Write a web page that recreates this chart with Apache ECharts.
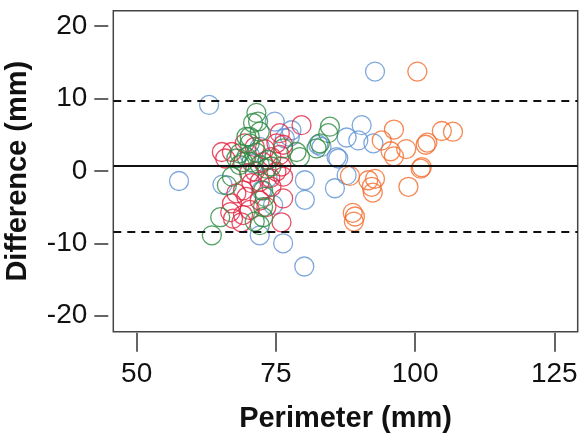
<!DOCTYPE html>
<html>
<head>
<meta charset="utf-8">
<script src="https://cdn.jsdelivr.net/npm/echarts@6/dist/echarts.min.js"></script>
<style>
html,body{margin:0;padding:0;background:#fff;}
#chart{width:584px;height:441px;}
</style>
</head>
<body>
<div id="chart"></div>
<script>
// [perimeter (mm), difference (mm)]
const bluePoints = [[57.6,-1.4],[63.0,9.1],[65.4,-1.9],[70.3,2.2],[72.1,3.3],[72.4,-2.7],[74.5,-4.7],[72.1,-8.9],[74.8,6.8],[77.5,4.7],[76.6,4.5],[77.8,5.6],[80.2,-1.3],[80.2,-4.0],[76.3,-10.0],[80.1,-13.2],[82.6,3.6],[83.2,3.3],[85.6,-2.4],[86.2,1.7],[85.9,1.9],[87.7,-0.6],[87.7,4.6],[90.4,6.3],[89.8,4.2],[92.5,3.8],[92.8,13.7],[73.5,-1.0],[71.0,1.0]];
const greenPoints = [[63.5,-8.9],[65.0,-6.4],[66.2,-2.0],[67.1,-0.8],[67.9,1.7],[68.5,2.4],[68.5,0.8],[69.7,1.9],[69.1,1.2],[70.3,3.8],[70.3,4.7],[69.7,4.7],[70.9,6.6],[71.5,8.0],[71.8,6.8],[72.1,5.4],[70.6,1.2],[72.1,0.8],[73.3,0.3],[74.2,0.6],[76.3,3.1],[78.7,2.6],[79.3,1.9],[82.3,3.1],[82.9,3.8],[84.4,5.2],[84.7,6.1],[72.7,-2.7],[73.0,-3.6],[72.7,-5.0],[72.7,-6.4],[72.1,-7.5],[71.2,-7.0],[71.5,2.5],[73.5,1.5]];
const redPoints = [[65.3,2.6],[65.9,1.7],[67.1,2.6],[67.9,-3.1],[67.1,-4.5],[66.8,-5.7],[67.3,-6.6],[68.8,-7.1],[69.1,-6.1],[70.6,-1.7],[69.1,-2.7],[70.2,-0.3],[79.6,6.3],[75.7,5.2],[76.3,3.6],[75.1,3.8],[75.7,2.2],[76.0,0.6],[76.3,-0.8],[75.1,-0.1],[74.2,-2.2],[76.3,-3.8],[76.0,-7.1],[73.3,-5.0],[72.1,-4.1],[69.7,-3.6],[70.3,-5.4],[71.2,3.3],[72.7,1.2],[74.2,1.9],[71.2,-0.1],[72.1,-1.5],[69.4,3.8],[74.0,-1.0],[73.0,3.0]];
const orangePoints = [[100.4,13.7],[96.2,5.7],[94.0,4.2],[95.6,2.7],[96.2,2.0],[98.4,3.0],[101.9,3.6],[102.2,3.9],[104.8,5.5],[106.8,5.4],[101.0,0.3],[101.2,0.5],[98.8,-2.2],[88.3,-0.7],[91.6,-1.3],[92.8,-1.1],[92.2,-2.2],[92.4,-3.0],[88.8,-5.8],[89.2,-6.3],[89.0,-7.0]];
const meanDiff = 0.69;
const upperLoA = 9.64;
const lowerLoA = -8.44;
const xTicks = [50, 75, 100, 125];
const yTicks = [-20, -10, 0, 10, 20];
const xTitle = 'Perimeter (mm)';
const yTitle = 'Difference (mm)';

const FONT = '"Liberation Sans", Arial, sans-serif';
function sc(name, data, color) {
  return {
    name, type: 'scatter', data, symbol: 'circle', symbolSize: 19,
    itemStyle: { color: 'rgba(0,0,0,0)', borderColor: color, borderWidth: 1.3 },
    emphasis: { disabled: true }, z: 3
  };
}
const chart = echarts.init(document.getElementById('chart'), null, { renderer: 'canvas' });
const series = [
  sc('blue', bluePoints, '#5f92d3'),
  sc('orange', orangePoints, '#f26b2a'),
  sc('red', redPoints, '#e3223e'),
  sc('green', greenPoints, '#2b8a3e')
];
series.push({
  type: 'scatter', data: [], silent: true,
  markLine: {
    silent: true, symbol: ['none', 'none'], label: { show: false },
    data: [
      { yAxis: upperLoA, lineStyle: { type: [8, 6], width: 2, color: '#111' } },
      { yAxis: meanDiff, lineStyle: { type: 'solid', width: 1.8, color: '#111' } },
      { yAxis: lowerLoA, lineStyle: { type: [8, 6], width: 2, color: '#111' } }
    ]
  }
});
chart.setOption({
  animation: false,
  backgroundColor: '#fff',
  grid: { left: 113.3, top: 10.7, right: 6.3, bottom: 109.3, show: true, borderColor: '#444', borderWidth: 1.5, backgroundColor: 'transparent', containLabel: false, outerBoundsMode: 'none' },
  xAxis: {
    type: 'value', min: 45.8, max: 129.2, offset: 1,
    name: xTitle, nameLocation: 'middle', nameGap: 72,
    nameTextStyle: { fontFamily: FONT, fontWeight: 'bold', fontSize: 29, color: '#111' },
    axisLine: { show: false, onZero: false },
    splitLine: { show: false },
    axisTick: { show: true, length: 19, customValues: xTicks, lineStyle: { color: '#333', width: 1.5 } },
    axisLabel: { customValues: xTicks, margin: 28, fontFamily: FONT, fontSize: 28, color: '#111' }
  },
  yAxis: {
    type: 'value', min: -22.2, max: 22.1, offset: 5,
    name: yTitle, nameLocation: 'middle', nameGap: 76, nameRotate: 90,
    nameTextStyle: { fontFamily: FONT, fontWeight: 'bold', fontSize: 29, color: '#111' },
    axisLine: { show: false, onZero: false },
    splitLine: { show: false },
    axisTick: { show: true, length: 14, customValues: yTicks, lineStyle: { color: '#333', width: 1.5 } },
    axisLabel: { customValues: yTicks, margin: 21, fontFamily: FONT, fontSize: 28, color: '#111' }
  },
  series
});
</script>
</body>
</html>
